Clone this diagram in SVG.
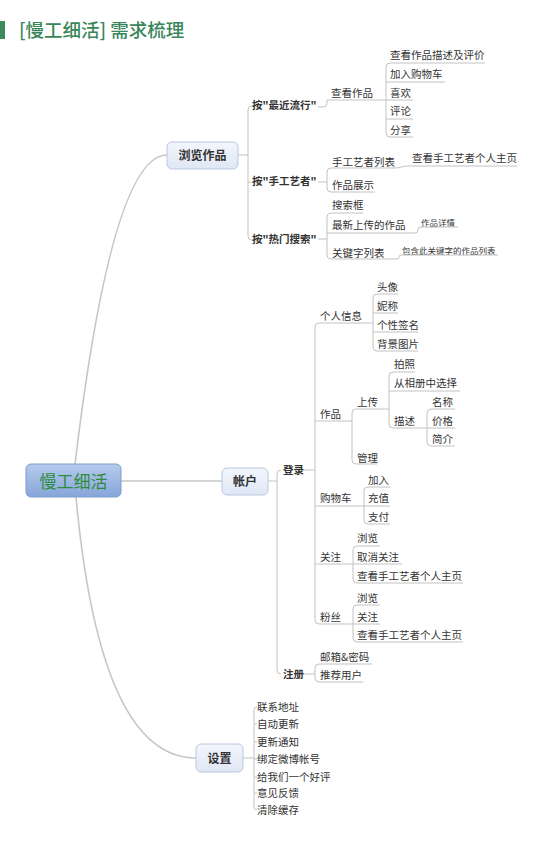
<svg xmlns="http://www.w3.org/2000/svg" width="542" height="866" viewBox="0 0 542 866">
<defs>
<linearGradient id="gRoot" x1="0" y1="0" x2="0" y2="1"><stop offset="0" stop-color="#b6cbec"/><stop offset="1" stop-color="#86a5d9"/></linearGradient>
<linearGradient id="gMain" x1="0" y1="0" x2="0" y2="1"><stop offset="0" stop-color="#f3f6fc"/><stop offset="1" stop-color="#dfe7f5"/></linearGradient>
</defs>
<style>
text{font-family:"Noto Sans CJK SC","Noto Sans",sans-serif;font-size:10.5px;fill:#333}
.b{font-weight:bold}
.s{font-size:8.5px}
.m{font-size:12px;font-weight:bold;text-anchor:middle}
.u{stroke:#c2c2c2;stroke-width:1;fill:none}
.c{stroke:#c2c2c2;stroke-width:1;fill:none}
.k{stroke:#c6c6c6;stroke-width:1.6;fill:none}
.box{fill:url(#gMain);stroke:#b9c7e0;stroke-width:1}
</style>
<rect width="542" height="866" fill="#fff"/>
<g id="title">
<rect x="0" y="21" width="5" height="18" fill="#3d8a5e"/>
<text x="19" y="37" style="font-size:18.5px;fill:#3a865a;font-weight:500">[慢工细活] 需求梳理</text>
</g>
<g id="connectors">
<path class="k" d="M75,464 Q112,155 167,155"/>
<path class="k" d="M76,497 Q100,758 196,758"/>
<path class="k" d="M121,481 L222,481"/>
<!-- browse -->
<path class="c" d="M238,155 L248,155 M252,106 Q248,106 248,110 L248,236 Q248,240 252,240 M248,182 L252,182"/>
<path class="c" d="M318,107 L323,107 Q327,107 327,103 L327,100"/>
<path class="c" d="M390,63 Q386,63 386,67 L386,133 Q386,137 390,137"/>
<path class="c" d="M318,182 L327,182 M331,168 Q327,168 327,172 L327,188 Q327,192 331,192"/>
<path class="c" d="M395,168 C401,168 402,166 408,166"/>
<path class="c" d="M318,239 L327,239 M331,213 Q327,213 327,217 L327,255 Q327,259 331,259"/>
<path class="c" d="M415,233 Q418,233 418,230 Q418,227 421,227"/>
<path class="c" d="M397,259 Q399,259 399,257 Q399,255 401,255"/>
<!-- account -->
<path class="c" d="M268,481 L277,481 M281,470 Q277,470 277,474 L277,670 Q277,674 281,674"/>
<path class="c" d="M303,470 L315,470 M319,323 Q315,323 315,327 L315,620 Q315,624 319,624"/>
<path class="c" d="M377,294 Q373,294 373,298 L373,347 Q373,351 377,351"/>
<path class="c" d="M356,409 Q352,409 352,413 L352,460 Q352,464 356,464"/>
<path class="c" d="M393,372 Q389,372 389,376 L389,424 Q389,428 393,428"/>
<path class="c" d="M431,409 Q427,409 427,413 L427,442 Q427,446 431,446"/>
<path class="c" d="M368,487 Q364,487 364,491 L364,520 Q364,524 368,524"/>
<path class="c" d="M357,546 Q353,546 353,550 L353,579 Q353,583 357,583"/>
<path class="c" d="M357,605 Q353,605 353,609 L353,638 Q353,642 357,642"/>
<path class="c" d="M303,674 L315,674 M319,664 Q315,664 315,668 L315,678 Q315,682 319,682"/>
<!-- settings -->
<path class="c" d="M243,758 L254,758 M257,707 Q254,707 254,710 L254,807 Q254,810 257,810 M254,724 L257,724 M254,742 L257,742 M254,759 L257,759 M254,777 L257,777 M254,793 L257,793"/>
</g>
<g id="root">
<rect x="26" y="464" width="95" height="33" rx="5" fill="url(#gRoot)" stroke="#7f9ccf"/>
<text x="73.5" y="487.5" style="font-size:17px;fill:#2e8b3e;text-anchor:middle">慢工细活</text>
</g>
<g id="n-browse"><rect class="box" x="167" y="142" width="71" height="27" rx="5"/><text class="m" x="202.5" y="160">浏览作品</text></g>
<g id="n-account"><rect class="box" x="222" y="468" width="46" height="27" rx="5"/><text class="m" x="245" y="486">帐户</text></g>
<g id="n-settings"><rect class="box" x="196" y="744" width="47" height="28" rx="5"/><text class="m" x="219.5" y="762.5">设置</text></g>
<!-- browse branch -->
<g id="n-popular"><text class="b" x="252" y="109">按"最近流行"</text></g>
<g id="n-artist"><text class="b" x="252" y="185">按"手工艺者"</text></g>
<g id="n-hot"><text class="b" x="252" y="243">按"热门搜索"</text></g>
<g id="n-viewwork"><text x="331" y="97">查看作品</text><line class="u" x1="327" y1="100" x2="386" y2="100"/></g>
<g id="n-desc"><text x="390" y="59">查看作品描述及评价</text><line class="u" x1="390" y1="63" x2="485" y2="63"/></g>
<g id="n-cart"><text x="390" y="78">加入购物车</text><line class="u" x1="386" y1="82" x2="445" y2="82"/></g>
<g id="n-like"><text x="390" y="97">喜欢</text><line class="u" x1="386" y1="100" x2="413" y2="100"/></g>
<g id="n-comment"><text x="390" y="115">评论</text><line class="u" x1="386" y1="119" x2="413" y2="119"/></g>
<g id="n-share"><text x="390" y="134">分享</text><line class="u" x1="390" y1="137" x2="413" y2="137"/></g>
<g id="n-artistlist"><text x="332" y="166">手工艺者列表</text><line class="u" x1="331" y1="168" x2="395" y2="168"/></g>
<g id="n-artisthome"><text x="412" y="162">查看手工艺者个人主页</text><line class="u" x1="408" y1="166" x2="517" y2="166"/></g>
<g id="n-showcase"><text x="332" y="189">作品展示</text><line class="u" x1="331" y1="192" x2="375" y2="192"/></g>
<g id="n-searchbox"><text x="332" y="209">搜索框</text><line class="u" x1="331" y1="213" x2="363" y2="213"/></g>
<g id="n-latest"><text x="332" y="229">最新上传的作品</text><line class="u" x1="327" y1="233" x2="415" y2="233"/></g>
<g id="n-detail"><text class="s" x="421" y="226">作品详情</text><line class="u" x1="421" y1="227" x2="458" y2="227"/></g>
<g id="n-keywords"><text x="332" y="257">关键字列表</text><line class="u" x1="331" y1="259" x2="397" y2="259"/></g>
<g id="n-kwlist"><text class="s" x="402" y="254">包含此关键字的作品列表</text><line class="u" x1="401" y1="255" x2="498" y2="255"/></g>
<!-- account branch -->
<g id="n-login"><text class="b" x="283" y="474">登录</text></g>
<g id="n-register"><text class="b" x="283" y="678">注册</text></g>
<g id="n-profile"><text x="320" y="320">个人信息</text><line class="u" x1="319" y1="323" x2="373" y2="323"/></g>
<g id="n-avatar"><text x="377" y="291">头像</text><line class="u" x1="377" y1="294" x2="398" y2="294"/></g>
<g id="n-nick"><text x="377" y="310">妮称</text><line class="u" x1="373" y1="313" x2="398" y2="313"/></g>
<g id="n-sign"><text x="377" y="329">个性签名</text><line class="u" x1="373" y1="332" x2="418" y2="332"/></g>
<g id="n-bg"><text x="377" y="348">背景图片</text><line class="u" x1="377" y1="351" x2="418" y2="351"/></g>
<g id="n-works"><text x="320" y="418">作品</text><line class="u" x1="315" y1="421" x2="352" y2="421"/></g>
<g id="n-upload"><text x="357" y="406">上传</text><line class="u" x1="356" y1="409" x2="389" y2="409"/></g>
<g id="n-photo"><text x="394" y="368">拍照</text><line class="u" x1="393" y1="372" x2="415" y2="372"/></g>
<g id="n-album"><text x="394" y="387">从相册中选择</text><line class="u" x1="389" y1="391" x2="460" y2="391"/></g>
<g id="n-describe"><text x="394" y="425">描述</text><line class="u" x1="393" y1="428" x2="427" y2="428"/></g>
<g id="n-name"><text x="432" y="406">名称</text><line class="u" x1="431" y1="409" x2="455" y2="409"/></g>
<g id="n-price"><text x="432" y="425">价格</text><line class="u" x1="427" y1="428" x2="455" y2="428"/></g>
<g id="n-intro"><text x="432" y="443">简介</text><line class="u" x1="431" y1="446" x2="455" y2="446"/></g>
<g id="n-manage"><text x="357" y="462">管理</text><line class="u" x1="356" y1="464" x2="377" y2="464"/></g>
<g id="n-cart2"><text x="320" y="502">购物车</text><line class="u" x1="315" y1="506" x2="364" y2="506"/></g>
<g id="n-add"><text x="368" y="484">加入</text><line class="u" x1="368" y1="487" x2="390" y2="487"/></g>
<g id="n-recharge"><text x="368" y="502">充值</text><line class="u" x1="364" y1="506" x2="390" y2="506"/></g>
<g id="n-pay"><text x="368" y="521">支付</text><line class="u" x1="368" y1="524" x2="390" y2="524"/></g>
<g id="n-follow"><text x="320" y="561">关注</text><line class="u" x1="315" y1="564" x2="353" y2="564"/></g>
<g id="n-f-browse"><text x="357" y="542">浏览</text><line class="u" x1="357" y1="546" x2="380" y2="546"/></g>
<g id="n-f-unfollow"><text x="357" y="561">取消关注</text><line class="u" x1="353" y1="564" x2="402" y2="564"/></g>
<g id="n-f-home"><text x="357" y="580">查看手工艺者个人主页</text><line class="u" x1="357" y1="583" x2="463" y2="583"/></g>
<g id="n-fans"><text x="320" y="621">粉丝</text><line class="u" x1="319" y1="624" x2="353" y2="624"/></g>
<g id="n-fa-browse"><text x="357" y="602">浏览</text><line class="u" x1="357" y1="605" x2="380" y2="605"/></g>
<g id="n-fa-follow"><text x="357" y="621">关注</text><line class="u" x1="353" y1="624" x2="380" y2="624"/></g>
<g id="n-fa-home"><text x="357" y="639">查看手工艺者个人主页</text><line class="u" x1="357" y1="642" x2="463" y2="642"/></g>
<g id="n-email"><text x="320" y="661">邮箱&amp;密码</text><line class="u" x1="319" y1="664" x2="372" y2="664"/></g>
<g id="n-recommend"><text x="320" y="679">推荐用户</text><line class="u" x1="319" y1="682" x2="363" y2="682"/></g>
<!-- settings branch -->
<g id="n-s1"><text x="257" y="711">联系地址</text></g>
<g id="n-s2"><text x="257" y="728">自动更新</text></g>
<g id="n-s3"><text x="257" y="746">更新通知</text></g>
<g id="n-s4"><text x="257" y="763">绑定微博帐号</text></g>
<g id="n-s5"><text x="257" y="781">给我们一个好评</text></g>
<g id="n-s6"><text x="257" y="797">意见反馈</text></g>
<g id="n-s7"><text x="257" y="814">清除缓存</text></g>
</svg>
